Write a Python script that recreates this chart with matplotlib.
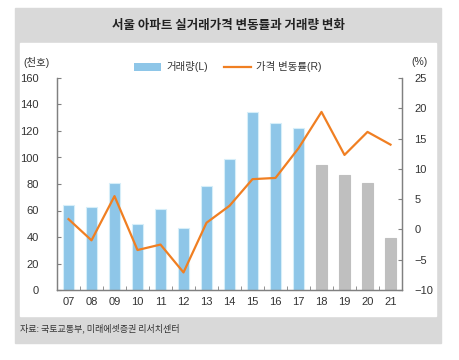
import matplotlib
matplotlib.use("Agg")
from matplotlib import pyplot as plt
from matplotlib.patches import Rectangle, Patch
from matplotlib.lines import Line2D
import numpy as np

plt.rcParams['font.family'] = ['Liberation Sans', 'Noto Sans CJK KR', 'DejaVu Sans']

years = ["07", "08", "09", "10", "11", "12", "13", "14", "15", "16", "17", "18", "19", "20", "21"]
volume = [64, 63, 81, 50, 61.5, 46.5, 78.5, 98.5, 134, 126, 122.5, 94.5, 87, 81, 39]
price_change = [1.7, -1.8, 5.5, -3.4, -2.5, -7.1, 1.1, 3.9, 8.3, 8.5, 13.4, 19.4, 12.3, 16.1, 14.0]
n_actual = 11  # 07~17 blue, 18~21 gray

blue = '#8ec6e8'
gray = '#bfbfbf'
orange = '#f07f22'
axis_gray = '#808080'

fig = plt.figure(figsize=(4.6, 3.6), dpi=100)
fig.patch.set_facecolor('white')

# background panels (pixel coords -> figure coords)
W, H = 460, 360
def box(x0, y0, x1, y1, color):
    fig.patches.append(Rectangle((x0 / W, 1 - y1 / H), (x1 - x0) / W, (y1 - y0) / H,
                                 transform=fig.transFigure, color=color, zorder=-2))
box(15, 8, 441, 343, '#d9d9d9')
box(20, 43, 436, 316, 'white')

kr = ['Noto Sans CJK KR', 'DejaVu Sans']
fig.text(228 / W, 1 - 25 / H, "서울 아파트 실거래가격 변동률과 거래량 변화", ha='center', va='center',
         fontsize=9, fontweight='bold', color='#222222', family=kr)
fig.text(20 / W, 1 - 328 / H, "자료: 국토교통부, 미래에셋증권 리서치센터", ha='left', va='center',
         fontsize=6.5, color='#333333', family=kr)

ax = fig.add_axes([57 / W, 1 - 290 / H, (402 - 57) / W, (290 - 78) / H])
x = np.arange(len(years))
colors = [blue if i < n_actual else gray for i in range(len(years))]
edges = ['#d6eef9' if i < n_actual else gray for i in range(len(years))]
ax.bar(x, volume, width=0.52, color=colors, edgecolor=edges, linewidth=0.8, zorder=2)
ax.set_ylim(0, 160)
ax.set_xlim(-0.5, len(years) - 0.5)
ax.set_yticks(np.arange(0, 161, 20))
ax.set_xticks(x)
ax.set_xticklabels(years)
ax.set_xticks(np.arange(0.5, len(years) - 0.5, 1), minor=True)

ax2 = ax.twinx()
ax2.plot(x, price_change, color=orange, linewidth=1.6, zorder=3)
ax2.set_ylim(-10, 25)
ax2.set_yticks(np.arange(-10, 26, 5))
ax2.set_yticklabels([("−" + str(-v)) if v < 0 else str(v) for v in range(-10, 26, 5)])

for a in (ax, ax2):
    a.spines['top'].set_visible(False)
    for s in ('left', 'right', 'bottom'):
        a.spines[s].set_color(axis_gray)
        a.spines[s].set_linewidth(0.9)
    a.set_facecolor('none')

ax.tick_params(axis='y', direction='in', length=3, color=axis_gray, labelsize=8,
               labelcolor='#333333', pad=13)
ax.tick_params(axis='x', which='major', length=0, labelsize=8, labelcolor='#333333', pad=5)
ax.tick_params(axis='x', which='minor', direction='in', length=3, color=axis_gray)
ax2.tick_params(axis='y', direction='in', length=3, color=axis_gray, labelsize=8,
                labelcolor='#333333', pad=9)

fig.text(36 / W, 1 - 62 / H, "(천호)", ha='center', va='center', fontsize=7.5, color='#333333')
fig.text(420 / W, 1 - 62 / H, "(%)", ha='center', va='center', fontsize=7.5, color='#333333')

handles = [Patch(facecolor=blue, edgecolor='none'), Line2D([0], [0], color=orange, linewidth=1.6)]
fig.legend(handles, ["거래량(L)", "가격 변동률(R)"], loc='center', bbox_to_anchor=(228 / W, 1 - 67 / H),
           ncol=2, frameon=False, fontsize=7.5, handlelength=2.6, handleheight=0.7,
           columnspacing=1.5, handletextpad=0.5, labelcolor='#333333')

fig.savefig("out.png", dpi=100)
